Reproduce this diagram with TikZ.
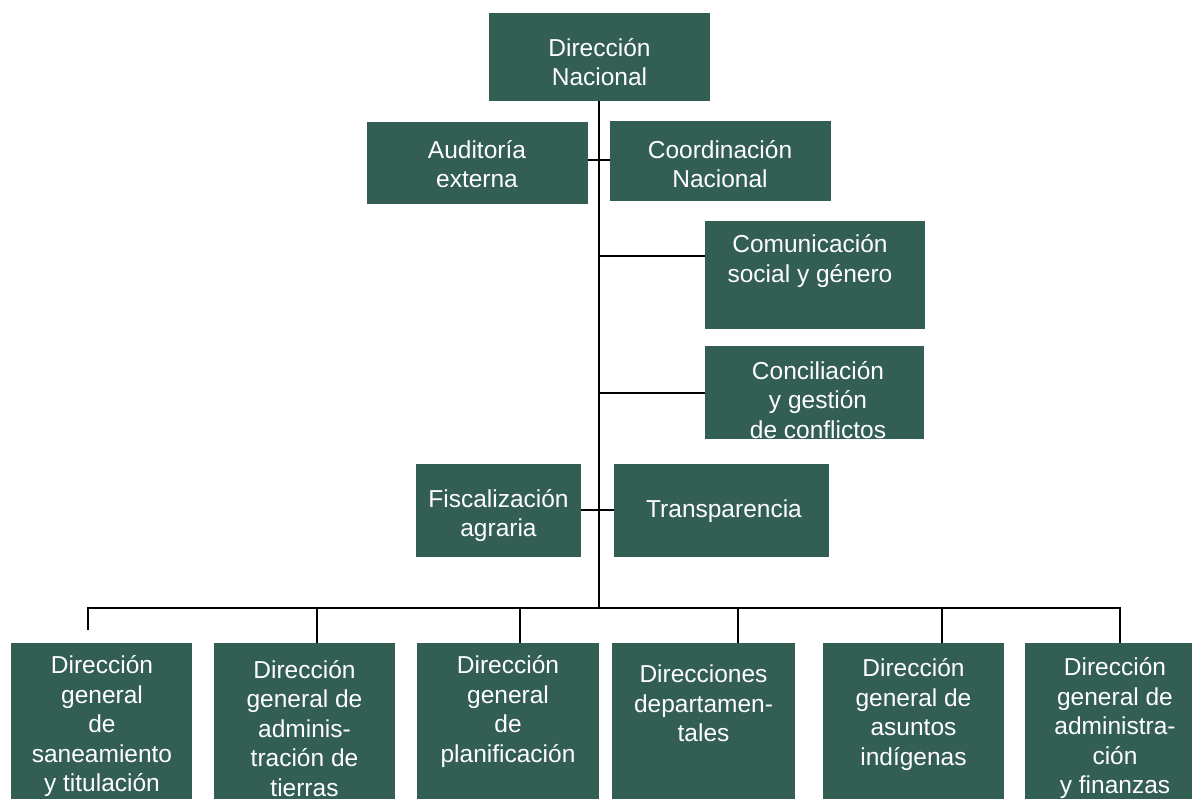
\documentclass[tikz,border=0pt]{standalone}
\usepackage{fontspec}
\setmainfont{Liberation Sans}
\definecolor{boxgreen}{RGB}{50,94,84}
\begin{document}
\begin{tikzpicture}[x=1pt,y=-1pt,
  box/.style={fill=boxgreen, draw=none, inner sep=0pt, outer sep=0pt},
  lbl/.style={text=white, align=center, inner sep=0pt, font=\fontsize{24.5}{29.5}\selectfont},
  conn/.style={draw=black, line width=2.8pt}]
\useasboundingbox (0,0) rectangle (1192,799);
\clip (0,0) rectangle (1192,799);
% boxes
\node[box, minimum width=221pt, minimum height=88pt] (dn) at (599.5,57) {};
\node[box, minimum width=221pt, minimum height=82pt] (ae) at (477.5,163) {};
\node[box, minimum width=221pt, minimum height=80pt] (cn) at (720.5,161) {};
\node[box, minimum width=220pt, minimum height=108pt] (csg) at (815,275) {};
\node[box, minimum width=219pt, minimum height=93pt] (cgc) at (814.5,392.5) {};
\node[box, minimum width=165pt, minimum height=93pt] (fa) at (498.5,510.5) {};
\node[box, minimum width=215pt, minimum height=93pt] (tr) at (721.5,510.5) {};
\node[box, minimum width=181pt, minimum height=170pt] (b1) at (101.5,728) {};
\node[box, minimum width=181pt, minimum height=170pt] (b2) at (304.5,728) {};
\node[box, minimum width=182pt, minimum height=170pt] (b3) at (508,728) {};
\node[box, minimum width=183pt, minimum height=170pt] (b4) at (703.5,728) {};
\node[box, minimum width=181pt, minimum height=170pt] (b5) at (913.5,728) {};
\node[box, minimum width=180pt, minimum height=170pt] (b6) at (1115,728) {};
% labels
\node[lbl] (tdn) at (599.5,62) {Dirección\\Nacional};
\node[lbl] (tae) at (477,164) {Auditoría\\externa};
\node[lbl] (tcn) at (720,164) {Coordinación\\Nacional};
\node[lbl] (tcsg) at (810,261) {Comunicación\\social y género};
\node[lbl] (tcgc) at (818,400) {Conciliación\\y gestión\\de conflictos};
\node[lbl] (tfa) at (498.5,515.5) {Fiscalización\\agraria};
\node[lbl] (ttr) at (724,511) {Transparencia};
\node[lbl] (tb1) at (102,726.5) {Dirección\\general\\de\\saneamiento\\y titulación};
\node[lbl] (tb2) at (304.5,728.5) {Dirección\\general de\\adminis-\\tración de\\tierras};
\node[lbl] (tb3) at (508,711.5) {Dirección\\general\\de\\planificación};
\node[lbl] (tb4) at (703.5,703.5) {Direcciones\\departamen-\\tales};
\node[lbl] (tb5) at (913.5,714.5) {Dirección\\general de\\asuntos\\indígenas};
\node[lbl] (tb6) at (1115,728.5) {Dirección\\general de\\administra-\\ción\\y finanzas};
% connector points
\coordinate (bus) at (599,608);
\coordinate (busL) at (88,608);
\coordinate (busR) at (1120,608);
\coordinate (b1end) at (88,630);
\coordinate (j1) at (599,256);
\coordinate (j2) at (599,393);
% connectors
\draw[conn] (dn.south -| bus) -- (bus);
\draw[conn] (ae.east |- 0,160) -- (cn.west |- 0,160);
\draw[conn] (j1) -- (csg.west |- j1);
\draw[conn] (j2) -- (cgc.west |- j2);
\draw[conn] (fa.east |- 0,510) -- (tr.west |- 0,510);
\draw[conn, line cap=rect] (busL) -- (busR);
\draw[conn] (busL) -- (b1end);
\draw[conn] (317,608) -- (b2.north -| 317,0);
\draw[conn] (520,608) -- (b3.north -| 520,0);
\draw[conn] (738,608) -- (b4.north -| 738,0);
\draw[conn] (942,608) -- (b5.north -| 942,0);
\draw[conn] (busR) -- (b6.north -| busR);
\end{tikzpicture}
\end{document}
